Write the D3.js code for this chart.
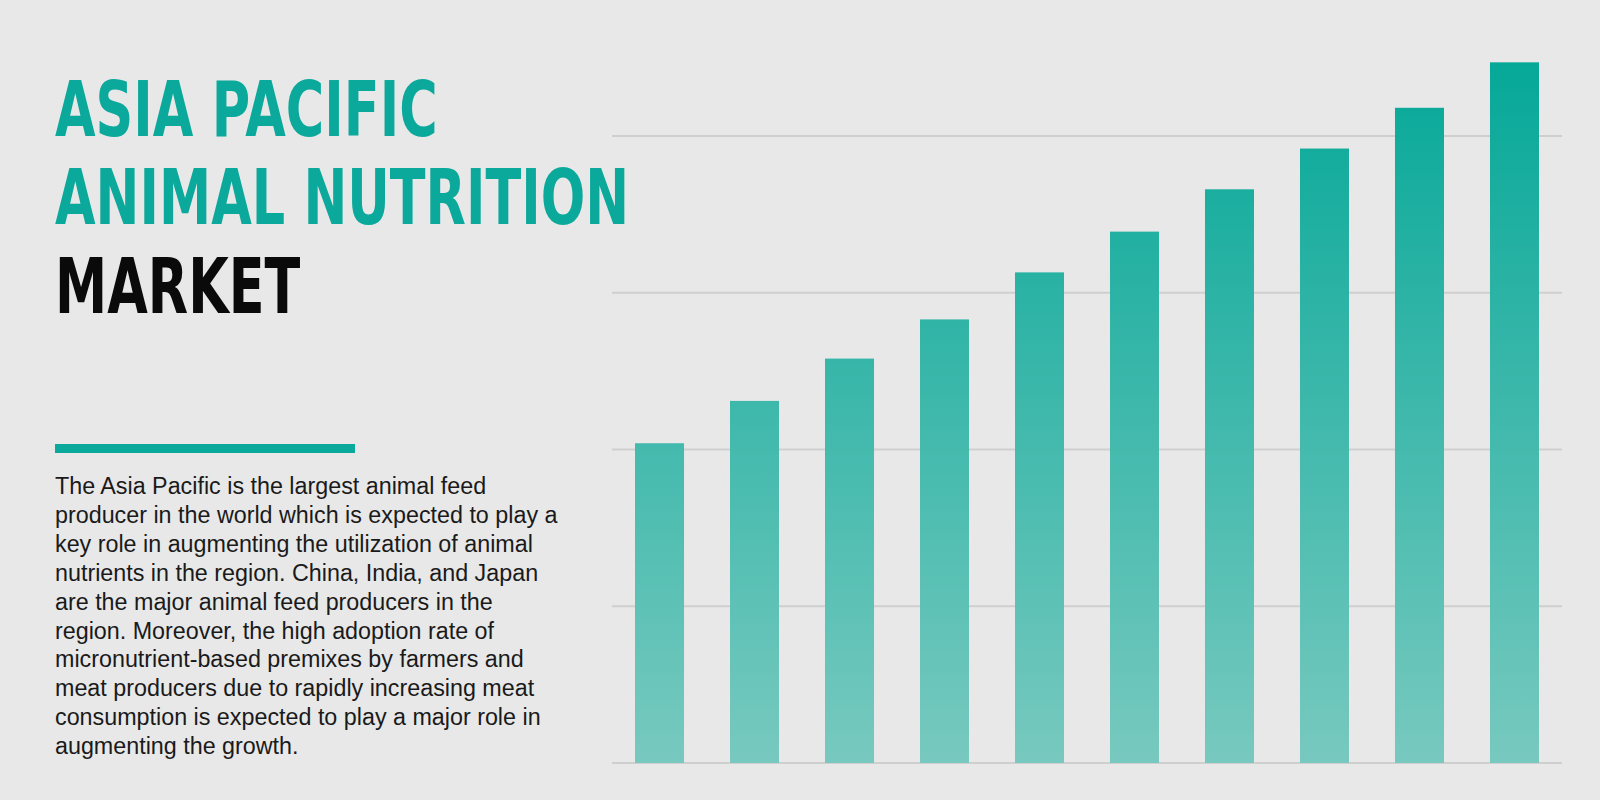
<!DOCTYPE html>
<html><head><meta charset="utf-8">
<script src="https://cdn.jsdelivr.net/npm/d3@7"></script>
<style>body{margin:0;background:#e8e8e8;}svg{display:block;}</style>
</head><body><div id="chart"></div>
<script>
// bar heights in grid units (gridlines at 0..4)
const years = ["Y1","Y2","Y3","Y4","Y5","Y6","Y7","Y8","Y9","Y10"];
const values = [2.04, 2.31, 2.58, 2.83, 3.13, 3.39, 3.66, 3.92, 4.18, 4.47];
const gridTicks = [0, 1, 2, 3, 4];
const titleLines = ["ASIA PACIFIC", "ANIMAL NUTRITION", "MARKET"];
const bodyLines = [
  "The Asia Pacific is the largest animal feed",
  "producer in the world which is expected to play a",
  "key role in augmenting the utilization of animal",
  "nutrients in the region. China, India, and Japan",
  "are the major animal feed producers in the",
  "region. Moreover, the high adoption rate of",
  "micronutrient-based premixes by farmers and",
  "meat producers due to rapidly increasing meat",
  "consumption is expected to play a major role in",
  "augmenting the growth."
];

const W = 1600, H = 800;
const svg = d3.select("#chart").append("svg").attr("width", W).attr("height", H);
svg.append("rect").attr("width", W).attr("height", H).attr("fill", "#e8e8e8");

const grad = svg.append("defs").append("linearGradient")
  .attr("id", "barGrad").attr("gradientUnits", "userSpaceOnUse")
  .attr("x1", 0).attr("x2", 0).attr("y1", 60).attr("y2", 764);
grad.append("stop").attr("offset", "0%").attr("stop-color", "#05a898");
grad.append("stop").attr("offset", "100%").attr("stop-color", "#78c9bf");

// chart scales
const x = d3.scaleBand().domain(years).range([635, 1539]).paddingInner(0.484).paddingOuter(0);
const y = d3.scaleLinear().domain([0, 4]).range([763, 136]);

svg.append("g").selectAll("line").data(gridTicks).join("line")
  .attr("x1", 612).attr("x2", 1562)
  .attr("y1", d => y(d)).attr("y2", d => y(d))
  .attr("stroke", "#cfcfcf").attr("stroke-width", 2);

svg.append("g").selectAll("rect").data(values).join("rect")
  .attr("x", (d, i) => x(years[i]))
  .attr("width", x.bandwidth())
  .attr("y", d => y(d))
  .attr("height", d => y(0) - y(d))
  .attr("fill", "url(#barGrad)");

// title, horizontally condensed
svg.append("g").attr("transform", "translate(55,0) scale(0.69,1)")
  .selectAll("text").data(titleLines).join("text")
  .attr("x", 0).attr("y", (d, i) => 136 + i * 88.5)
  .attr("font-family", "'DejaVu Sans', sans-serif")
  .attr("font-weight", "bold").attr("font-size", 76)
  .attr("fill", (d, i) => i < 2 ? "#0aa99b" : "#0a0a0a")
  .text(d => d);

svg.append("rect").attr("x", 55).attr("y", 444).attr("width", 300).attr("height", 9).attr("fill", "#0aa99b");

svg.append("g").selectAll("text").data(bodyLines).join("text")
  .attr("x", 55).attr("y", (d, i) => 494 + i * 28.9)
  .attr("font-family", "'Liberation Sans', Arial, sans-serif")
  .attr("font-size", 23.3).attr("fill", "#1a1a1a")
  .text(d => d);
</script></body></html>
